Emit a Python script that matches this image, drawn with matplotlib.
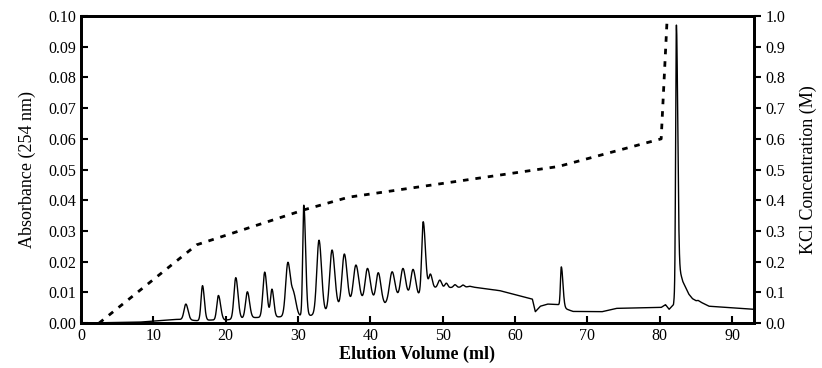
import numpy as np
import matplotlib.pyplot as plt

plt.rcParams['font.family'] = ['Liberation Serif', 'DejaVu Serif']

# absorbance peaks: centre (ml), top value, left width, right width
peak_pos = [14.5, 16.8, 19.0, 21.4, 23.0, 25.4, 26.4, 28.6, 29.4, 30.8, 32.9, 34.7,
            36.4, 38.0, 39.6, 41.1, 43.0, 44.5, 45.9, 47.3, 48.3, 49.6, 50.5,
            51.7, 52.8, 53.7, 57.2, 57.8, 66.4, 82.3]
peak_top = [0.0062, 0.0122, 0.009, 0.0148, 0.0102, 0.0166, 0.011, 0.0196, 0.009, 0.0384,
            0.027, 0.0238, 0.0225, 0.0189, 0.0178, 0.0164, 0.0167, 0.0178, 0.0175, 0.033,
            0.0159, 0.014, 0.013, 0.0125, 0.0124, 0.012, 0.0108, 0.0106, 0.0183, 0.097]
peak_wl = [0.25, 0.2, 0.22, 0.25, 0.25, 0.25, 0.2, 0.3, 0.3, 0.15, 0.3, 0.32,
           0.32, 0.35, 0.32, 0.3, 0.35, 0.32, 0.3, 0.2, 0.2, 0.25, 0.2,
           0.2, 0.2, 0.2, 0.15, 0.15, 0.12, 0.1]
peak_wr = [0.3, 0.25, 0.3, 0.3, 0.3, 0.3, 0.25, 0.35, 0.35, 0.25, 0.35, 0.38,
           0.38, 0.4, 0.38, 0.35, 0.38, 0.35, 0.35, 0.3, 0.25, 0.25, 0.2,
           0.2, 0.2, 0.2, 0.15, 0.15, 0.22, 0.18]

# baseline of the absorbance trace (valleys, slow drift and the tail of the last peak)
base_x = [0, 8, 11, 13, 14, 16, 18, 20, 22, 24, 27, 29.8, 31.8, 33.8, 35.5, 37.2,
          38.8, 40.3, 42, 43.7, 45.2, 46.6, 48, 50, 54, 58, 62.4, 62.8, 63.5, 64.5,
          66, 67.2, 68, 72, 74, 80.2, 80.8, 81.3, 81.9, 82.6, 82.9, 83.2, 83.6, 84.0,
          84.5, 85.0, 85.3, 85.7, 86.8, 93]
base_y = [0, 0.0003, 0.0008, 0.0012, 0.0012, 0.0008, 0.001, 0.001, 0.0015, 0.0018,
          0.002, 0.0022, 0.0025, 0.0035, 0.005, 0.006, 0.007, 0.0075, 0.0062, 0.008,
          0.009, 0.0088, 0.0115, 0.0115, 0.0118, 0.0105, 0.0078, 0.0037, 0.0055,
          0.0062, 0.006, 0.0045, 0.0038, 0.0037, 0.0048, 0.0051, 0.006, 0.0045,
          0.006, 0.019, 0.016, 0.0135, 0.0115, 0.0095, 0.008, 0.0073, 0.0074, 0.0068,
          0.0055, 0.0045]

# KCl gradient (right axis)
grad_x = [2.5, 16, 31, 37, 66, 80.2, 81.0]
grad_y = [0.0, 0.255, 0.37, 0.41, 0.51, 0.60, 0.98]

x = np.linspace(0, 93, 5000)
y = np.interp(x, base_x, base_y)
for c, h, wl, wr in zip(peak_pos, peak_top, peak_wl, peak_wr):
    amp = h - np.interp(c, base_x, base_y)
    w = np.where(x < c, wl, wr)
    y = y + amp * np.exp(-0.5 * ((x - c) / w) ** 2)

fig = plt.figure(figsize=(8.22, 3.68), dpi=100)
ax = fig.add_axes([0.0985, 0.122, 0.8185, 0.8345])
ax.plot(x, y, color='black', lw=1.0)
ax.set_xlim(0, 93)
ax.set_ylim(0, 0.10)
ax.set_xticks(range(0, 91, 10))
ax.set_yticks(np.arange(0, 0.101, 0.01))
ax.set_yticklabels(['%.2f' % v for v in np.arange(0, 0.101, 0.01)])
ax.tick_params(direction='in', length=5, width=1.5, labelsize=11.5)
ax.set_ylabel('Absorbance (254 nm)', fontsize=13, labelpad=9)
ax.set_xlabel('Elution Volume (ml)', fontsize=13, fontweight='bold', labelpad=1)
for s in ax.spines.values():
    s.set_linewidth(2)

ax2 = ax.twinx()
ax2.plot(grad_x, grad_y, color='black', lw=2, linestyle=(0, (2, 2.5)))
ax2.set_ylim(0, 1.0)
ax2.set_yticks(np.arange(0, 1.01, 0.1))
ax2.set_yticklabels(['%.1f' % v for v in np.arange(0, 1.01, 0.1)])
ax2.tick_params(direction='out', length=5, width=1.5, labelsize=11.5)
ax2.set_ylabel('KCl Concentration (M)', fontsize=13, labelpad=10)
for s in ax2.spines.values():
    s.set_linewidth(2)

fig.savefig('out.png', dpi=100)
